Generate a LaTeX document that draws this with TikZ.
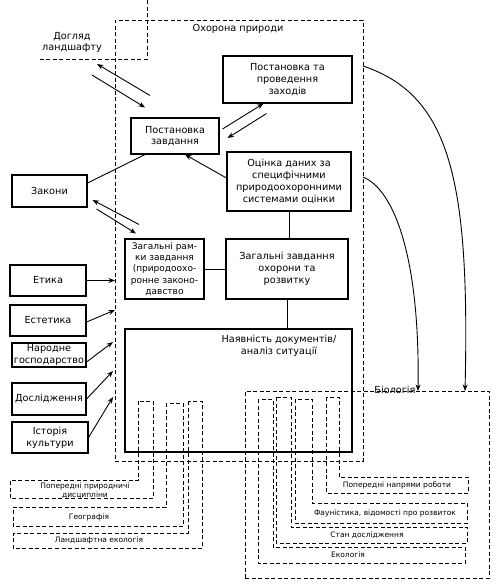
\documentclass[tikz,border=0pt]{standalone}
\usepackage{fontspec}
\setmainfont{DejaVu Sans}
\usetikzlibrary{arrows.meta}
\newcommand\dgmain{\fontsize{9.7}{11.7}\selectfont}
\newcommand\dgram{\fontsize{9}{11.2}\selectfont}
\newcommand\dgsmall{\fontsize{7.5}{9}\selectfont}
\begin{document}
\begin{tikzpicture}[x=1pt,y=-1pt,
  box/.style={draw,line width=1.1pt,inner sep=0pt,align=center,font=\dgmain},
  dsh/.style={line width=0.9pt,dash pattern=on 4pt off 2.5pt},
  conn/.style={line width=0.9pt},
  arr/.style={line width=0.9pt,-{Stealth[length=6.5pt,width=5pt]}},
  lbl/.style={inner sep=0pt,align=center,font=\dgmain},
  slbl/.style={inner sep=0pt,align=center,font=\dgsmall}]
\fill[white] (0,0) rectangle (500,584);
\useasboundingbox (0,0) rectangle (500,584);

% outer frames
\node[dsh,draw,minimum width=248pt,minimum height=441pt,inner sep=0pt] (ohor) at (239,240.5) {};
\node[lbl,anchor=base] (ohort) at (238,31) {Охорона природи};
\draw[dsh] (147,0) -- (147,59) -- (38,59);
\node[lbl] (dohl) at (72,42.5) {Догляд\\ландшафту};
\node[dsh,draw,minimum width=244pt,minimum height=187pt,inner sep=0pt] (biol) at (367,484.5) {};
\node[lbl,anchor=base] (biolt) at (395,393) {Біологія};

% main boxes
\node[box,minimum width=88pt,minimum height=36pt] (postz) at (175,136) {Постановка\\завдання};
\node[box,minimum width=129pt,minimum height=47pt] (zahody) at (287.5,79.5) {Постановка та\\проведення\\заходів};
\node[box,minimum width=124pt,minimum height=59pt] (otsinka) at (289,181.5) {Оцінка даних за\\специфічними\\природоохоронними\\системами оцінки};
\node[box,minimum width=75pt,minimum height=32pt] (zakony) at (49.5,191) {Закони};
\node[box,font=\dgram,minimum width=79pt,minimum height=60pt] (ramky) at (164.5,269) {Загальні рам-\\ки завдання\\(природоохо-\\ронне законо-\\давство};
\node[box,minimum width=122pt,minimum height=60pt] (zahzavd) at (287,269) {Загальні завдання\\охорони та\\розвитку};
\node[box,minimum width=227pt,minimum height=123pt] (nayav) at (238.5,390.5) {};
\node[lbl] (nayavt) at (279,345.5) {Наявність документів/\\аналіз ситуації};

% left boxes
\node[box,minimum width=76pt,minimum height=31pt] (etyka) at (48,280.5) {Етика};
\node[box,minimum width=76pt,minimum height=31pt] (estetyka) at (48,320.5) {Естетика};
\node[box,minimum width=74pt,minimum height=24pt] (narodne) at (49,355) {Народне\\господарство};
\node[box,minimum width=74pt,minimum height=32pt] (dosl) at (49,399) {Дослідження};
\node[box,minimum width=76pt,minimum height=31pt] (istoriya) at (50,437.5) {Історія\\культури};

% connector end points
\coordinate (d1) at (97,64);
\coordinate (d2) at (92,75);
\coordinate (ae) at (115,280.5);
\coordinate (aes) at (115,310);
\coordinate (an) at (113,342);
\coordinate (ad) at (113,371);
\coordinate (ai) at (113,397);
\coordinate (c1s) at (363,66);
\coordinate (c1e) at (465,391);
\coordinate (c2s) at (363,177);
\coordinate (c2e) at (418,391);

% connectors
\draw[arr] ([xshift=-25pt,yshift=22pt]postz.north) -- (d1);
\draw[arr] (d2) -- ([xshift=-30pt,yshift=10pt]postz.north);
\draw[arr] ([xshift=3pt,yshift=7pt]postz.east) -- ([xshift=-24pt]zahody.south);
\draw[arr] ([xshift=-21pt,yshift=-10pt]zahody.south) -- ([xshift=8pt,yshift=-2pt]postz.east);
\draw[conn] ([yshift=8pt]zakony.east) -- ([xshift=-30pt]postz.south);
\draw[arr] ([yshift=3.5pt]otsinka.west) -- ([xshift=10pt]postz.south);
\draw[arr] ([xshift=-25.5pt,yshift=14pt]ramky.north) -- ([xshift=5pt,yshift=-9pt]zakony.east);
\draw[arr] ([xshift=9pt,yshift=-18pt]zakony.east) -- ([xshift=-28.5pt,yshift=5pt]ramky.north);
\draw[conn] (otsinka.south) -- (otsinka.south |- zahzavd.north);
\draw[conn] (ramky.east) -- (zahzavd.west);
\draw[conn] (zahzavd.south) -- (zahzavd.south |- nayav.north);

\draw[arr] (etyka.east) -- (ae);
\draw[arr] ([yshift=-1.5pt]estetyka.east) -- (aes);
\draw[arr] ([yshift=-7pt]narodne.east) -- (an);
\draw[arr] (dosl.east) -- (ad);
\draw[arr] (istoriya.east) -- (ai);

\draw[arr] (c1s) .. controls (450,95) and (470,180) .. (c1e);
\draw[arr] (c2s) .. controls (395,190) and (420,260) .. (c2e);

% left dashed discipline shapes
\draw[dsh] (138,401) -- (138,480) -- (10,480) -- (10,498) -- (153,498) -- (153,401) -- cycle;
\draw[dsh] (166,403) -- (166,507) -- (13,507) -- (13,526) -- (183,526) -- (183,403) -- cycle;
\draw[dsh] (188,401) -- (188,533) -- (13,533) -- (13,548) -- (202,548) -- (202,401) -- cycle;
\node[slbl] (t1) at (85,490.5) {Попередні природничі\\дисципліни};
\node[slbl] (t2) at (89,517) {Географія};
\node[slbl] (t3) at (99,540.5) {Ландшафтна екологія};

% right dashed discipline shapes
\draw[dsh] (326,397) -- (326,493) -- (468,493) -- (468,477) -- (339,477) -- (339,397) -- cycle;
\draw[dsh] (295,399) -- (295,523) -- (467,523) -- (467,503) -- (312,503) -- (312,399) -- cycle;
\draw[dsh] (276,397) -- (276,543) -- (467,543) -- (467,527) -- (291,527) -- (291,397) -- cycle;
\draw[dsh] (258,399) -- (258,563) -- (465,563) -- (465,547) -- (273,547) -- (273,399) -- cycle;
\node[slbl] (r1) at (397,485.5) {Попередні напрями роботи};
\node[slbl] (r2) at (385,513) {Фауністика, відомості про розвиток};
\node[slbl] (r3) at (367,535) {Стан дослідження};
\node[slbl] (r4) at (348,555) {Екологія};
\end{tikzpicture}
\end{document}
